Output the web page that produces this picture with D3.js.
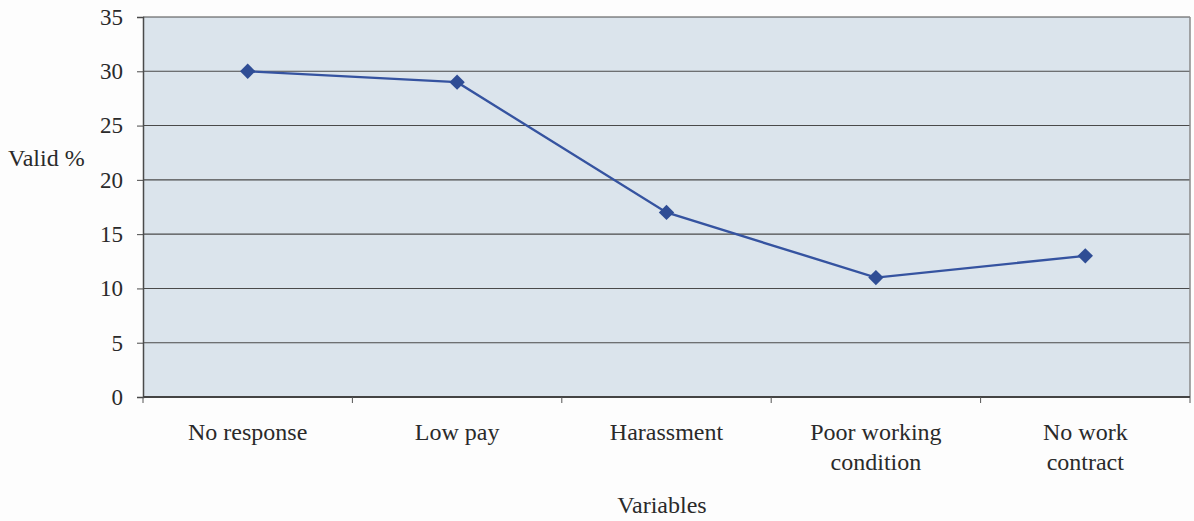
<!DOCTYPE html>
<html>
<head>
<meta charset="utf-8">
<script src="https://cdn.jsdelivr.net/npm/d3@7"></script>
<style>
  html, body { margin: 0; padding: 0; background: #fdfdfd; }
  svg { display: block; font-family: "Liberation Serif", "Times New Roman", serif; }
</style>
</head>
<body>
<svg id="chart" width="1194" height="521"></svg>
<script>
// Reasons given, and the valid percentage for each
const categories = ["No response", "Low pay", "Harassment", "Poor working condition", "No work contract"];
const validPct = [30, 29, 17, 11, 13];
const yTicks = [0, 5, 10, 15, 20, 25, 30, 35];

const svg = d3.select("#chart");
const margin = { top: 17, right: 4, bottom: 124, left: 143 };
const W = 1194, H = 521;
const innerW = W - margin.left - margin.right;
const innerH = H - margin.top - margin.bottom;

const g = svg.append("g").attr("transform", `translate(${margin.left},${margin.top})`);

const x = d3.scaleBand().domain(categories).range([0, innerW]);
const y = d3.scaleLinear().domain([0, 35]).range([innerH, 0]);

// Plot area
g.append("rect")
  .attr("width", innerW).attr("height", innerH)
  .attr("fill", "#dbe4ec");

// Horizontal gridlines
g.append("g").selectAll("line")
  .data(yTicks.filter(t => t > 0))
  .join("line")
  .attr("x1", 0).attr("x2", innerW)
  .attr("y1", d => y(d)).attr("y2", d => y(d))
  .attr("stroke", "#4a4a4a").attr("stroke-width", 1.1);

// Right border of the plot area
g.append("line")
  .attr("x1", innerW).attr("x2", innerW)
  .attr("y1", 0).attr("y2", innerH)
  .attr("stroke", "#8a8a8a").attr("stroke-width", 1.5);

// Y axis
const yAxis = g.append("g")
  .call(d3.axisLeft(y).tickValues(yTicks).tickSize(6).tickPadding(14));
yAxis.select(".domain").attr("stroke", "#4a4a4a").attr("stroke-width", 1.5);
yAxis.selectAll(".tick line").attr("stroke", "#4a4a4a");
yAxis.selectAll(".tick text")
  .attr("font-size", 23).attr("fill", "#2a2a2a")
  .attr("font-family", "Liberation Serif, serif");

// X axis with ticks at band edges
const xAxis = g.append("g").attr("transform", `translate(0,${innerH})`);
xAxis.append("line")
  .attr("x1", 0).attr("x2", innerW)
  .attr("stroke", "#444").attr("stroke-width", 2);
const edges = categories.map(c => x(c)).concat([innerW]);
xAxis.selectAll("line.tk")
  .data(edges)
  .join("line").attr("class", "tk")
  .attr("x1", d => d).attr("x2", d => d)
  .attr("y1", 0).attr("y2", 6)
  .attr("stroke", "#555");

// Category labels, wrapped onto two lines where long
const wrapped = {
  "Poor working condition": ["Poor working", "condition"],
  "No work contract": ["No work", "contract"]
};
const lbl = xAxis.selectAll("text.cat")
  .data(categories)
  .join("text").attr("class", "cat")
  .attr("x", d => x(d) + x.bandwidth() / 2)
  .attr("y", 43)
  .attr("text-anchor", "middle")
  .attr("font-size", 24)
  .attr("fill", "#2a2a2a");
lbl.each(function(d) {
  const lines = wrapped[d] || [d];
  d3.select(this).selectAll("tspan")
    .data(lines)
    .join("tspan")
    .attr("x", x(d) + x.bandwidth() / 2)
    .attr("dy", (l, i) => i === 0 ? 0 : 30)
    .text(l => l);
});

// Axis titles
svg.append("text")
  .attr("x", 662).attr("y", 513)
  .attr("text-anchor", "middle")
  .attr("font-size", 24).attr("fill", "#2a2a2a")
  .text("Variables");
svg.append("text")
  .attr("x", 8).attr("y", 166)
  .attr("font-size", 24).attr("fill", "#2a2a2a")
  .text("Valid %");

// Series line
const line = d3.line()
  .x((d, i) => x(categories[i]) + x.bandwidth() / 2)
  .y(d => y(d));
g.append("path")
  .datum(validPct)
  .attr("d", line)
  .attr("fill", "none")
  .attr("stroke", "#3553a0")
  .attr("stroke-width", 2.4);

// Diamond markers
g.selectAll("path.mk")
  .data(validPct)
  .join("path").attr("class", "mk")
  .attr("d", d3.symbol(d3.symbolDiamond2, 150))
  .attr("transform", (d, i) => `translate(${x(categories[i]) + x.bandwidth() / 2},${y(d)})`)
  .attr("fill", "#2f4d95");
</script>
</body>
</html>
